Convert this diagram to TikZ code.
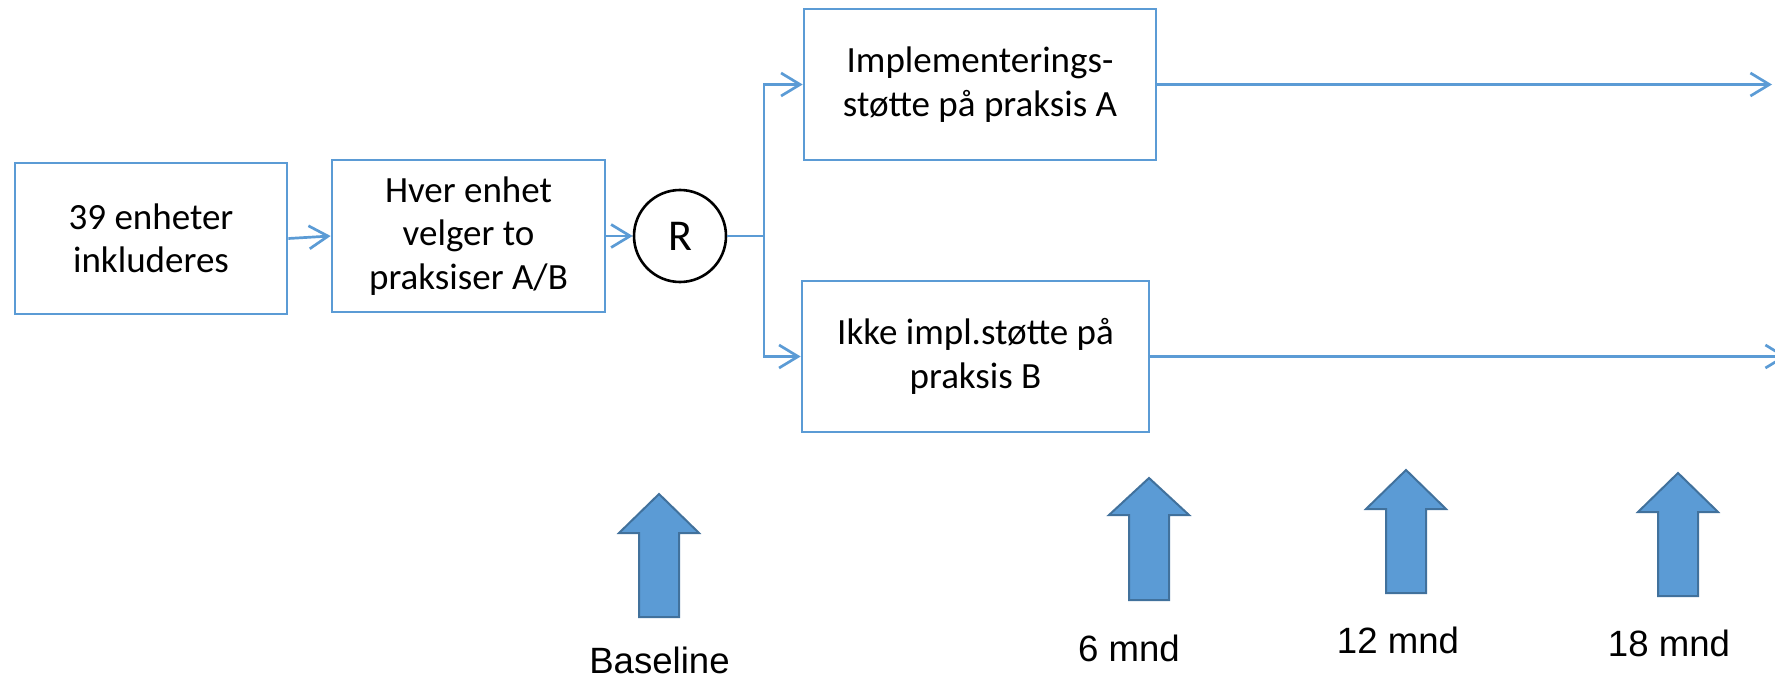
\documentclass[tikz,border=0pt]{standalone}
\usepackage{fontspec}
\setmainfont{Carlito}
\newfontfamily\labelfont{Liberation Sans}
\usetikzlibrary{arrows.meta}
\definecolor{linkblue}{HTML}{5B9BD5}
\definecolor{arrowedge}{HTML}{41719C}
\begin{document}
\begin{tikzpicture}[x=0.5pt, y=-0.5pt,
  box/.style={draw=linkblue, line width=1.35pt, align=center, inner sep=0pt,
    font=\fontsize{18.5}{21.7}\selectfont},
  link/.style={draw=linkblue, line width=1.35pt},
  arr/.style={link, -{Straight Barb[length=9.5pt, width=11.5pt, line width=1.35pt]}},
  stamp/.style={fill=linkblue, draw=arrowedge, line width=1pt, line join=miter},
  tlabel/.style={font=\labelfont\fontsize{18.3}{22}\selectfont, inner sep=0pt}
]
\useasboundingbox (0,0) rectangle (1775,679);

% process boxes
\node[box, minimum width=136pt, minimum height=75.5pt] (inc) at (151,238.5)
  {39 enheter\\inkluderes};
\node[box, minimum width=136.5pt, minimum height=76pt] (sel) at (468.5,236)
  {Hver enhet\\velger to\\praksiser A/B};
\node[draw=black, line width=1.3pt, circle, minimum size=46pt, inner sep=0pt,
  font=\fontsize{22}{26}\selectfont] (rnd) at (680,236) {R};
\node[box, minimum width=176pt, minimum height=75.5pt] (pa) at (980,84.5)
  {Implementerings-\\støtte på praksis A};
\node[box, minimum width=173.5pt, minimum height=75.5pt] (pb) at (975.5,356.5)
  {Ikke impl.støtte på\\praksis B};

% connectors
\coordinate (fork) at (764,236);
\coordinate (endA) at (1772,84.5);
\coordinate (endB) at (1787,356.5);
\draw[arr] (inc.east) -- (sel.west);
\draw[arr] (sel.east) -- (rnd.west);
\draw[link] (rnd.east) -- (fork);
\draw[arr] (fork) |- (pa.west);
\draw[arr] (fork) |- (pb.west);
\draw[arr] (pa.east) -- (endA);
\draw[arr] (pb.east) -- (endB);

% measurement points: block arrows
\foreach \cx/\tip/\base/\bot in {659/494/533/617, 1149/478/515/600,
                                 1406/470/509/593, 1678/473/512/596}
  \draw[stamp] (\cx,\tip) -- (\cx+40,\base) -- (\cx+20,\base) -- (\cx+20,\bot)
    -- (\cx-20,\bot) -- (\cx-20,\base) -- (\cx-40,\base) -- cycle;

% time labels
\node[tlabel] (lb0) at (659.5,660) {Baseline};
\node[tlabel] (lb6) at (1129,648) {6 mnd};
\node[tlabel] (lb12) at (1398,640) {12 mnd};
\node[tlabel] (lb18) at (1669,643) {18 mnd};
\end{tikzpicture}
\end{document}
